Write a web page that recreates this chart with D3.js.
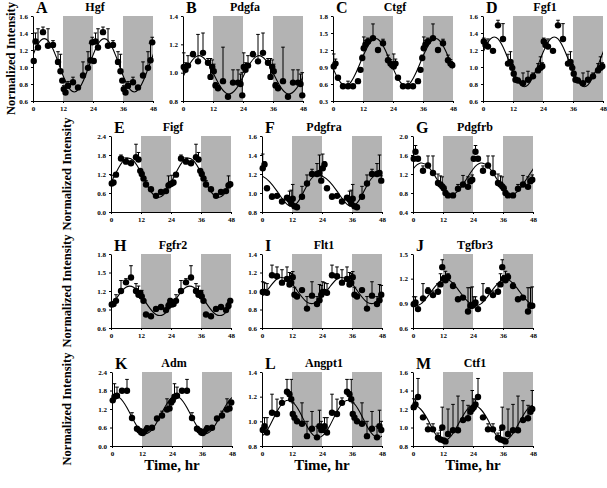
<!DOCTYPE html>
<html><head><meta charset="utf-8">
<script src="https://cdn.jsdelivr.net/npm/d3@7"></script>
<style>body{margin:0;background:#fff}svg{display:block}</style>
</head><body>
<svg id="c" width="607" height="488"></svg>
<script>
// ---- data ----
const sampleTimes = [0.3,1,2,4,6,8,10,11,11.7,12.3,13,14,16,18,20,22,23,23.7];
const fitTimes = [0,3,6,9,12,15,18,21];
const xTicks = [0,12,24,36,48];
const darkPeriods = [[12,24],[36,48]];
const letters = ["A","B","C","D","E","F","G","H","I","J","K","L","M"];
const genes = ["Hgf","Pdgfa","Ctgf","Fgf1","Figf","Pdgfra","Pdgfrb","Fgfr2","Flt1","Tgfbr3","Adm","Angpt1","Ctf1"];

const hgfMean = [1.07,1.30,1.23,1.41,1.25,1.26,1.06,0.95,0.84,0.74,0.70,0.78,0.82,0.76,0.90,0.99,1.08,1.29];
const hgfErr  = [0.03,0.10,0.22,0.06,0.20,0.05,0.12,0.20,0.02,0.04,0.02,0.05,0.06,0.02,0.16,0.19,0.20,0.06];
const hgfFit  = [1.14,1.31,1.31,1.14,0.90,0.73,0.73,0.90];
const hgfTicks = [0.6,0.8,1.0,1.2,1.4,1.6];

const pdgfaMean = [1.04,1.02,1.05,1.13,1.08,1.14,1.07,0.97,1.04,1.01,0.91,0.89,0.94,0.83,0.93,0.93,0.92,0.84];
const pdgfaErr  = [0.10,0.05,0.07,0.02,0.19,0.14,0.03,0.13,0.05,0.05,0.02,0.02,0.24,0.01,0.09,0.09,0.07,0.16];
const pdgfaFit  = [0.97,1.07,1.12,1.09,1.00,0.90,0.85,0.88];
const pdgfaTicks = [0.8,1.0,1.2,1.4];

const ctgfMean = [0.91,0.96,0.71,0.56,0.56,0.56,0.65,0.85,1.06,1.23,1.30,1.35,1.41,1.20,1.32,1.02,0.96,0.93];
const ctgfErr  = [0.22,0.08,0.02,0.02,0.09,0.02,0.02,0.03,0.05,0.20,0.07,0.06,0.25,0.03,0.07,0.09,0.07,0.05];
const ctgfFit  = [0.88,0.63,0.58,0.78,1.09,1.34,1.39,1.19];
const ctgfTicks = [0.3,0.6,0.9,1.2,1.5,1.8];

const fgf1Mean = [1.30,1.26,1.24,1.19,1.49,1.33,1.04,1.06,0.99,0.92,0.85,0.84,0.81,0.85,0.89,0.96,0.99,1.01];
const fgf1Err  = [0.04,0.05,0.09,0.02,0.06,0.18,0.11,0.12,0.04,0.03,0.03,0.03,0.12,0.10,0.04,0.08,0.13,0.04];
const fgf1Fit  = [1.17,1.33,1.33,1.17,0.95,0.79,0.79,0.95];
const fgf1Ticks = [0.6,0.8,1.0,1.2,1.4,1.6];

const figfMean = [0.90,0.93,1.18,1.69,1.59,1.54,1.73,1.66,1.30,1.20,1.06,0.87,0.72,0.51,0.63,0.66,0.84,0.88];
const figfErr  = [0.26,0.04,0.05,0.11,0.12,0.04,0.41,0.22,0.04,0.04,0.04,0.12,0.04,0.02,0.03,0.03,0.30,0.04];
const figfFit  = [0.92,1.39,1.68,1.62,1.24,0.77,0.48,0.54];
const figfTicks = [0.0,0.6,1.2,1.8,2.4];

const pdgfraMean = [1.26,1.30,1.05,0.96,0.97,0.91,0.95,0.93,0.89,0.94,0.86,0.85,0.96,1.10,1.20,1.20,1.21,1.13];
const pdgfraErr  = [0.15,0.03,0.00,0.03,0.02,0.00,0.02,0.09,0.14,0.15,0.00,0.00,0.11,0.09,0.05,0.11,0.19,0.05];
const pdgfraFit  = [1.18,1.12,1.02,0.91,0.86,0.93,1.08,1.18];
const pdgfraTicks = [0.8,1.0,1.2,1.4,1.6];

const pdgfrbMean = [1.52,1.67,1.52,1.27,1.38,1.22,1.01,0.98,0.94,0.90,0.80,0.75,0.75,0.89,0.98,0.93,1.05,1.08];
const pdgfrbErr  = [0.05,0.13,0.05,0.10,0.20,0.36,0.19,0.18,0.20,0.03,0.02,0.02,0.02,0.09,0.19,0.21,0.03,0.10];
const pdgfrbFit  = [1.30,1.43,1.36,1.14,0.90,0.77,0.84,1.06];
const pdgfrbTicks = [0.4,0.8,1.2,1.6,2.0];

const fgfr2Mean = [0.98,0.99,1.04,1.20,1.34,1.42,1.20,1.14,1.17,1.11,1.04,0.82,0.79,0.91,0.94,0.89,0.96,1.04];
const fgfr2Err  = [0.02,0.02,0.10,0.17,0.06,0.19,0.12,0.14,0.03,0.10,0.03,0.02,0.02,0.02,0.02,0.02,0.05,0.04];
const fgfr2Fit  = [0.95,1.13,1.26,1.26,1.13,0.95,0.82,0.82];
const fgfr2Ticks = [0.6,0.9,1.2,1.5,1.8];

const flt1Mean = [0.99,0.99,0.98,1.17,1.16,1.09,1.13,1.07,1.09,1.15,0.96,0.94,1.01,0.81,0.95,0.86,0.90,0.96];
const flt1Err  = [0.11,0.10,0.10,0.11,0.10,0.14,0.13,0.13,0.10,0.06,0.08,0.02,0.02,0.13,0.15,0.08,0.17,0.10];
const flt1Fit  = [0.94,1.04,1.13,1.14,1.08,0.97,0.88,0.87];
const flt1Ticks = [0.6,0.8,1.0,1.2,1.4];

const tgfbr3Mean = [0.89,0.91,0.83,0.96,1.05,1.00,1.04,1.13,1.34,1.20,1.18,1.22,1.11,0.95,0.97,0.80,0.87,0.87];
const tgfbr3Err  = [0.09,0.07,0.02,0.18,0.04,0.05,0.10,0.13,0.09,0.04,0.11,0.04,0.04,0.02,0.02,0.29,0.22,0.23];
const tgfbr3Fit  = [0.88,0.89,0.99,1.11,1.19,1.17,1.07,0.95];
const tgfbr3Ticks = [0.6,0.9,1.2,1.5];

const admMean = [1.48,1.60,1.63,1.79,1.79,0.91,0.56,0.50,0.44,0.42,0.47,0.56,0.59,0.89,0.99,1.18,1.22,1.41];
const admErr  = [0.04,0.42,0.28,0.04,0.37,0.17,0.04,0.04,0.04,0.04,0.04,0.10,0.05,0.05,0.14,0.35,0.20,0.05];
const admFit  = [1.57,1.57,1.24,0.78,0.45,0.45,0.78,1.24];
const admTicks = [0.0,0.6,1.2,1.8,2.4];

const angpt1Mean = [0.93,0.96,0.91,1.07,1.06,1.15,1.24,1.22,1.18,1.06,1.03,1.00,0.98,0.88,0.94,0.87,0.96,0.93];
const angpt1Err  = [0.02,0.07,0.12,0.15,0.12,0.04,0.10,0.02,0.16,0.09,0.02,0.02,0.17,0.12,0.14,0.09,0.13,0.07];
const angpt1Fit  = [0.88,0.96,1.08,1.16,1.16,1.08,0.96,0.88];
const angpt1Ticks = [0.8,1.0,1.2,1.4];

const ctf1Mean = [1.22,1.25,1.33,1.11,0.98,0.98,0.89,0.87,1.00,0.86,0.85,0.93,0.97,0.97,1.08,1.10,1.17,1.20];
const ctf1Err  = [0.09,0.05,0.20,0.02,0.06,0.06,0.05,0.10,0.22,0.02,0.02,0.27,0.28,0.37,0.21,0.14,0.06,0.20];
const ctf1Fit  = [1.24,1.20,1.08,0.93,0.86,0.90,1.03,1.17];
const ctf1Ticks = [0.8,1.0,1.2,1.4,1.6];

const means = [hgfMean,pdgfaMean,ctgfMean,fgf1Mean,figfMean,pdgfraMean,pdgfrbMean,fgfr2Mean,flt1Mean,tgfbr3Mean,admMean,angpt1Mean,ctf1Mean];
const errs  = [hgfErr,pdgfaErr,ctgfErr,fgf1Err,figfErr,pdgfraErr,pdgfrbErr,fgfr2Err,flt1Err,tgfbr3Err,admErr,angpt1Err,ctf1Err];
const fits  = [hgfFit,pdgfaFit,ctgfFit,fgf1Fit,figfFit,pdgfraFit,pdgfrbFit,fgfr2Fit,flt1Fit,tgfbr3Fit,admFit,angpt1Fit,ctf1Fit];
const ticks = [hgfTicks,pdgfaTicks,ctgfTicks,fgf1Ticks,figfTicks,pdgfraTicks,pdgfrbTicks,fgfr2Ticks,flt1Ticks,tgfbr3Ticks,admTicks,angpt1Ticks,ctf1Ticks];

// ---- layout ----
const W = 120;
const panelLeft = [33,183,333,483,111,262,413,111,262,413,112,262,413];
const panelRow  = [0,0,0,0,1,1,1,2,2,2,3,3,3];
const rowTop = [16,136,254,372];
const rowH   = [85,76,74,74];
const serif = "'Liberation Serif','Times New Roman',serif";

const svg = d3.select("#c");
const defs = svg.append("defs");

letters.forEach((letter,i)=>{
  const r = panelRow[i];
  const H = rowH[r];
  const x0 = panelLeft[i], y0 = rowTop[r];
  const g = svg.append("g").attr("transform",`translate(${x0},${y0})`);
  const x = d3.scaleLinear().domain([0,48]).range([0,W]);
  const yt = ticks[i];
  const y = d3.scaleLinear().domain([yt[0], yt[yt.length-1]]).range([H,0]);

  darkPeriods.forEach(([a,b])=>{
    g.append("rect").attr("x",x(a)).attr("y",0).attr("width",x(b)-x(a)).attr("height",H)
      .attr("fill","#b3b3b3");
  });

  defs.append("clipPath").attr("id","clip"+i).append("rect")
    .attr("x",0).attr("y",-20).attr("width",W).attr("height",H+40);

  const fit = fits[i];
  const cpts = [];
  for (let k=-2;k<=18;k++) cpts.push([fitTimes[0]+k*3, fit[((k%8)+8)%8]]);
  g.append("path").attr("clip-path",`url(#clip${i})`)
    .attr("d", d3.line().x(d=>x(d[0])).y(d=>y(d[1])).curve(d3.curveNatural)(cpts))
    .attr("fill","none").attr("stroke","#000").attr("stroke-width",1.1);

  const pts = [];
  [0,24].forEach(off=> sampleTimes.forEach((t,j)=> pts.push({t:t+off, v:means[i][j], e:errs[i][j]})));

  const eb = g.append("g").attr("stroke","#000").attr("stroke-width",1);
  pts.forEach(p=>{
    if (p.e <= 0) return;
    eb.append("line").attr("x1",x(p.t)).attr("x2",x(p.t)).attr("y1",y(p.v)).attr("y2",y(p.v+p.e));
    eb.append("line").attr("x1",x(p.t)-1.8).attr("x2",x(p.t)+1.8).attr("y1",y(p.v+p.e)).attr("y2",y(p.v+p.e));
  });
  g.append("g").selectAll("circle").data(pts).join("circle")
    .attr("cx",d=>x(d.t)).attr("cy",d=>y(d.v)).attr("r",3.2).attr("fill","#000");

  const ya = g.append("g").call(d3.axisLeft(y).tickValues(yt).tickFormat(d3.format(".1f")).tickSize(2).tickSizeOuter(0).tickPadding(3));
  const xa = g.append("g").attr("transform",`translate(0,${H})`)
    .call(d3.axisBottom(x).tickValues(xTicks).tickSize(2).tickSizeOuter(0).tickPadding(3));
  [ya,xa].forEach(a=>{
    a.selectAll("text").attr("font-family",serif).attr("font-weight","bold").attr("font-size",7).attr("fill","#000");
    a.selectAll("path,line").attr("stroke","#000");
  });

  g.append("text").attr("x",3).attr("y",-3).text(letter)
    .attr("font-family",serif).attr("font-weight","bold").attr("font-size",16);
  g.append("text").attr("x",W/2+2).attr("y",-5).attr("text-anchor","middle").text(genes[i])
    .attr("font-family",serif).attr("font-weight","bold").attr("font-size",12);

  if (r===3) {
    g.append("text").attr("x",W/2).attr("y",H+24).attr("text-anchor","middle").text("Time, hr")
      .attr("font-family",serif).attr("font-weight","bold").attr("font-size",15);
  }
});

// y-axis titles
const yLabX = [10,66,66,66];
rowTop.forEach((t,r)=>{
  svg.append("text").attr("transform",`translate(${yLabX[r]+5},${t+rowH[r]/2}) rotate(-90)`)
    .attr("text-anchor","middle").text("Normalized Intensity")
    .attr("font-family",serif).attr("font-weight","bold").attr("font-size",12.5);
});
</script>
</body></html>
